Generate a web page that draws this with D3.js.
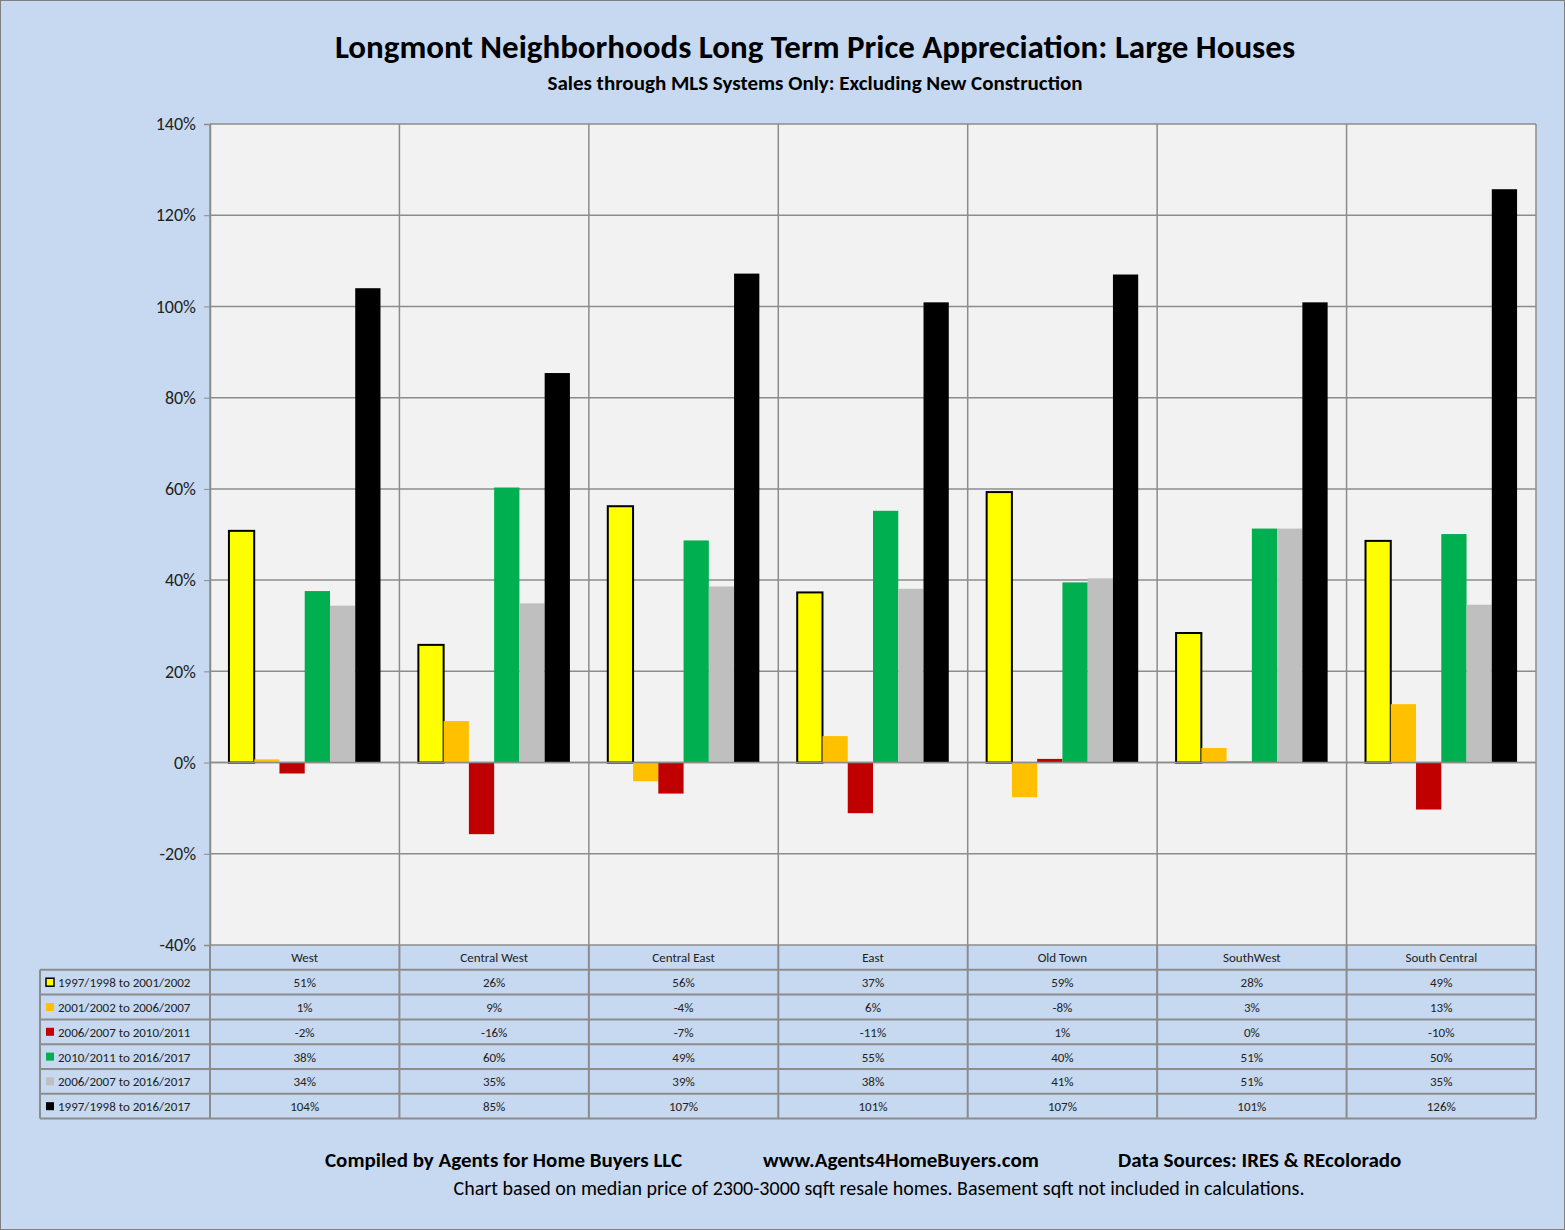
<!DOCTYPE html>
<html><head><meta charset="utf-8">
<script src="https://cdn.jsdelivr.net/npm/d3@7"></script>
<style>body{margin:0;background:#fff}svg{display:block;font-family:Calibri,Carlito,"Open Sans",sans-serif}</style>
</head><body><svg id="c" width="1565" height="1230"></svg>
<script>
const categories=["West","Central West","Central East","East","Old Town","SouthWest","South Central"];
const seriesNames=["1997/1998 to 2001/2002","2001/2002 to 2006/2007","2006/2007 to 2010/2011","2010/2011 to 2016/2017","2006/2007 to 2016/2017","1997/1998 to 2016/2017"];
const seriesColors=["#ffff00","#ffc000","#c00000","#00b050","#bfbfbf","#000000"];
const s1=[50.8,25.8,56.2,37.3,59.3,28.4,48.6];
const s2=[0.7,9.1,-4.1,5.8,-7.6,3.2,12.8];
const s3=[-2.4,-15.7,-6.8,-11.1,0.8,0.2,-10.3];
const s4=[37.6,60.3,48.7,55.2,39.5,51.3,50.1];
const s5=[34.4,34.9,38.6,38.1,40.4,51.3,34.6];
const s6=[104.0,85.4,107.2,100.9,107.0,100.9,125.7];
const series=[s1,s2,s3,s4,s5,s6];
const tableLabels=[["51%","26%","56%","37%","59%","28%","49%"],["1%","9%","-4%","6%","-8%","3%","13%"],["-2%","-16%","-7%","-11%","1%","0%","-10%"],["38%","60%","49%","55%","40%","51%","50%"],["34%","35%","39%","38%","41%","51%","35%"],["104%","85%","107%","101%","107%","101%","126%"]];
const yTicks=[-40,-20,0,20,40,60,80,100,120,140];

const svg=d3.select("#c");
svg.append("rect").attr("x",0.5).attr("y",0.5).attr("width",1564).attr("height",1229).attr("fill","#c6d9f0").attr("stroke","#7f7f7f");
const L=210,R=1536,T=124,B=945;
const x=d3.scaleBand().domain(categories).range([L,R]);
const xi=d3.scaleBand().domain(d3.range(6)).range([0,x.bandwidth()]).paddingOuter(0.75).paddingInner(0);
const y=d3.scaleLinear().domain([-40,140]).range([B,T]);
svg.append("rect").attr("x",L).attr("y",T).attr("width",R-L).attr("height",B-T).attr("fill","#f2f2f2");
const g=svg.append("g");
yTicks.forEach(t=>g.append("line").attr("x1",L).attr("x2",R).attr("y1",y(t)).attr("y2",y(t)).attr("stroke","#8c8c8c").attr("stroke-width",1.5));
categories.forEach(c=>g.append("line").attr("x1",x(c)).attr("x2",x(c)).attr("y1",T).attr("y2",B).attr("stroke","#8c8c8c").attr("stroke-width",1.5));
g.append("line").attr("x1",R).attr("x2",R).attr("y1",T).attr("y2",B).attr("stroke","#8c8c8c").attr("stroke-width",1.5);
const ax=svg.append("g").attr("transform",`translate(${L},0)`).call(d3.axisLeft(y).tickValues(yTicks).tickFormat(d=>d+"%").tickSize(6));
ax.select(".domain").attr("stroke","#8c8c8c").attr("stroke-width",1.5);
ax.selectAll(".tick line").attr("stroke","#8c8c8c");
ax.selectAll("text").attr("font-size",18).attr("fill","#222").attr("x",-14).attr("font-family","Calibri,Carlito,'Open Sans',sans-serif");
series.forEach((s,si)=>{
  svg.append("g").selectAll("rect").data(s).join("rect")
   .attr("x",(d,i)=>x(categories[i])+xi(si)).attr("width",xi.bandwidth())
   .attr("y",d=>y(Math.max(0,d))).attr("height",d=>Math.abs(y(d)-y(0)))
   .attr("fill",seriesColors[si]).attr("stroke",si==0?"#000":"none").attr("stroke-width",2);
});
svg.append("line").attr("x1",L).attr("x2",R).attr("y1",y(0)).attr("y2",y(0)).attr("stroke","#8c8c8c").attr("stroke-width",1.5);
// table
const rowH=24.8, tL=40;
const tg=svg.append("g");
categories.forEach(c=>tg.append("text").attr("x",x(c)+x.bandwidth()/2).attr("y",B+rowH/2+5).attr("text-anchor","middle").attr("font-size",13).attr("fill","#222").text(c));
seriesNames.forEach((n,si)=>{
  const ry=B+rowH*(si+1);
  tg.append("rect").attr("x",46).attr("y",ry+rowH/2-4).attr("width",8).attr("height",8).attr("fill",seriesColors[si]).attr("stroke",si==0?"#000":"none").attr("stroke-width",1.5);
  tg.append("text").attr("x",58).attr("y",ry+rowH/2+5).attr("font-size",13).attr("fill","#222").text(n);
  categories.forEach((c,i)=>tg.append("text").attr("x",x(c)+x.bandwidth()/2).attr("y",ry+rowH/2+5).attr("text-anchor","middle").attr("font-size",13).attr("fill","#222").text(tableLabels[si][i]));
});
const st={stroke:"#8c8c8c","stroke-width":2};
function ln(x1,y1,x2,y2){const l=tg.append("line").attr("x1",x1).attr("y1",y1).attr("x2",x2).attr("y2",y2);Object.entries(st).forEach(([k,v])=>l.attr(k,v));}
for(let r=1;r<=7;r++) ln(r==0?L:tL,B+rowH*r,R,B+rowH*r);
ln(tL,B+rowH,tL,B+rowH*7);
categories.forEach(c=>ln(x(c),B,x(c),B+rowH*7));
ln(R,B,R,B+rowH*7);
// titles
svg.append("text").attr("x",815).attr("y",58).attr("text-anchor","middle").attr("font-size",33).attr("font-weight","bold").attr("fill","#000").text("Longmont Neighborhoods Long Term Price Appreciation: Large Houses");
svg.append("text").attr("x",815).attr("y",90).attr("text-anchor","middle").attr("font-size",21).attr("font-weight","bold").attr("fill","#000").text("Sales through MLS Systems Only: Excluding  New Construction");
svg.append("text").attr("x",325).attr("y",1167).attr("font-size",21).attr("font-weight","bold").attr("fill","#000").text("Compiled by Agents for Home Buyers LLC");
svg.append("text").attr("x",763).attr("y",1167).attr("font-size",21).attr("font-weight","bold").attr("fill","#000").text("www.Agents4HomeBuyers.com");
svg.append("text").attr("x",1118).attr("y",1167).attr("font-size",21).attr("font-weight","bold").attr("fill","#000").text("Data Sources:  IRES & REcolorado");
svg.append("text").attr("x",879).attr("y",1195).attr("text-anchor","middle").attr("font-size",20).attr("fill","#000").text("Chart based on median price of 2300-3000 sqft resale homes.  Basement sqft not included in calculations.");
</script></body></html>
